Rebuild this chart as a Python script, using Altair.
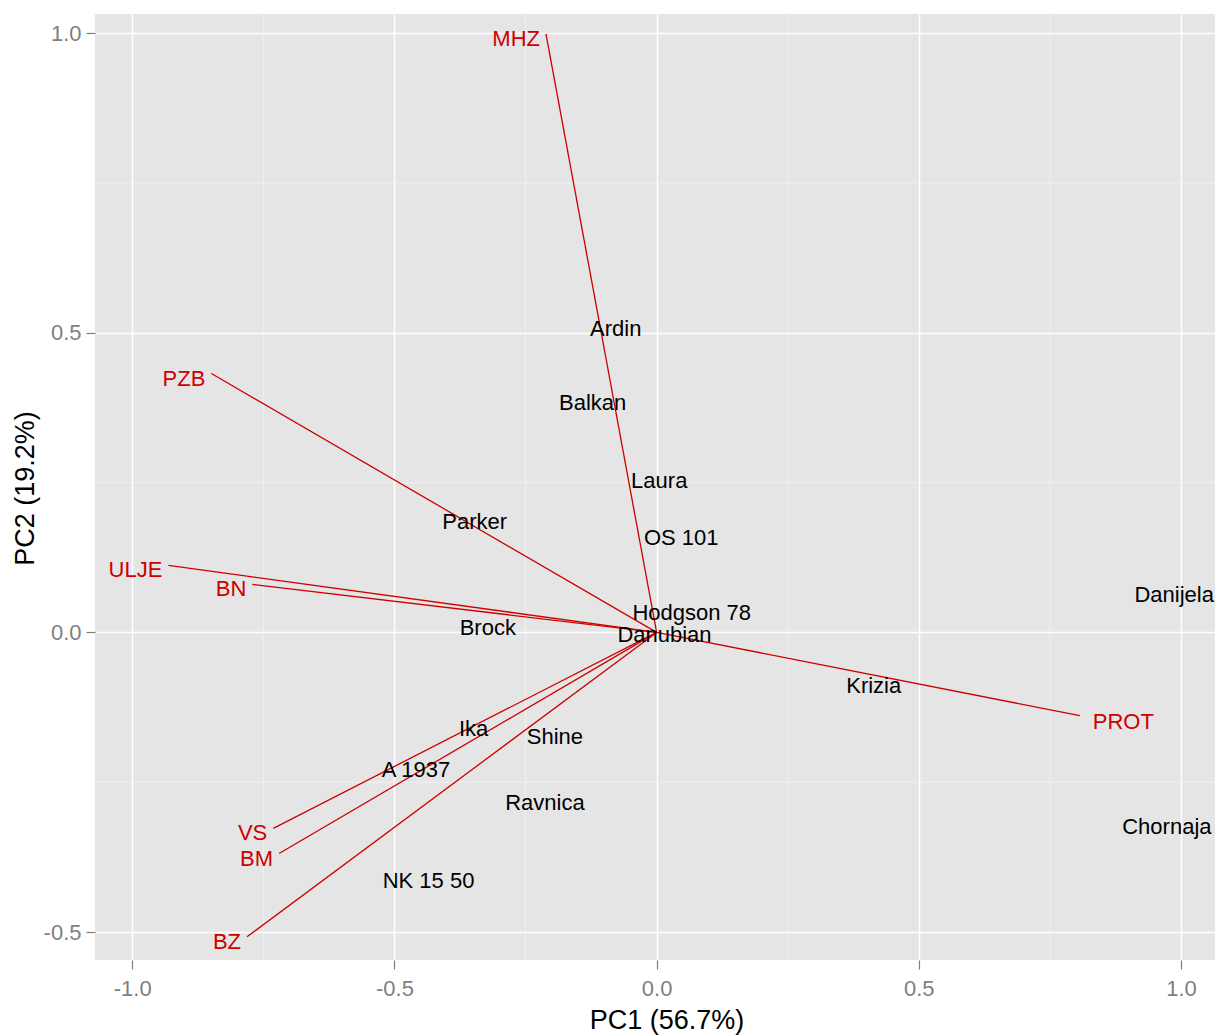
import altair as alt
import pandas as pd

# Sample (variety) scores
varieties = ["Ardin", "Balkan", "Laura", "OS 101", "Parker", "Hodgson 78", "Danubian",
             "Brock", "Danijela", "Krizia", "Ika", "Shine", "A 1937", "Ravnica",
             "Chornaja", "NK 15 50"]
var_pc1 = [-0.078, -0.122, 0.005, 0.047, -0.347, 0.067, 0.015,
           -0.322, 0.997, 0.414, -0.349, -0.194, -0.459, -0.213,
           0.973, -0.435]
var_pc2 = [0.506, 0.382, 0.253, 0.157, 0.185, 0.032, -0.004,
           0.008, 0.063, -0.090, -0.162, -0.175, -0.230, -0.285,
           -0.324, -0.415]

# Trait loadings (arrow tips)
traits = ["MHZ", "PZB", "ULJE", "BN", "PROT", "VS", "BM", "BZ"]
load_pc1 = [-0.211, -0.849, -0.931, -0.771, 0.807, -0.731, -0.720, -0.781]
load_pc2 = [0.999, 0.432, 0.112, 0.080, -0.139, -0.327, -0.369, -0.508]

# Axis ticks
x_major = [-1.0, -0.5, 0.0, 0.5, 1.0]
y_major = [-0.5, 0.0, 0.5, 1.0]
x_minor = [-0.75, -0.25, 0.25, 0.75]
y_minor = [-0.25, 0.25, 0.75]

x_domain = [-1.0710, 1.0648]
y_domain = [-0.5467, 1.032]

FONT = "Liberation Sans"
RED = "#CD0000"

samples = pd.DataFrame({"name": varieties, "x": var_pc1, "y": var_pc2})
loads = pd.DataFrame({"name": traits, "x": load_pc1, "y": load_pc2,
                      "x0": [0.0] * len(traits), "y0": [0.0] * len(traits)})

label_expr = "datum.value < 0 ? '-' + format(-datum.value, '.1f') : format(datum.value, '.1f')"

xscale = alt.Scale(domain=x_domain, nice=False, zero=False)
yscale = alt.Scale(domain=y_domain, nice=False, zero=False)

xaxis = alt.Axis(values=x_major, labelExpr=label_expr, title="PC1 (56.7%)", labelPadding=9,
                 titleX=571.5, titleY=60, titleBaseline="middle", titleAlign="center")
yaxis = alt.Axis(values=y_major, labelExpr=label_expr, title="PC2 (19.2%)", labelPadding=5,
                 titleX=-70, titleY=474, titleBaseline="middle", titleAlign="center", titleAngle=270)

base_x = alt.X("x:Q", scale=xscale, axis=xaxis)
base_y = alt.Y("y:Q", scale=yscale, axis=yaxis)

minor_x = alt.Chart(pd.DataFrame({"v": x_minor})).mark_rule(
    color="#F2F2F2", strokeWidth=0.9).encode(x=alt.X("v:Q", scale=xscale, axis=xaxis))
minor_y = alt.Chart(pd.DataFrame({"v": y_minor})).mark_rule(
    color="#F2F2F2", strokeWidth=0.9).encode(y=alt.Y("v:Q", scale=yscale, axis=yaxis))

arrows = alt.Chart(loads).mark_rule(color=RED, strokeWidth=1.3).encode(
    x=alt.X("x0:Q", scale=xscale, axis=xaxis),
    y=alt.Y("y0:Q", scale=yscale, axis=yaxis),
    x2="x:Q", y2="y:Q")

left_labels = alt.Chart(loads).transform_filter("datum.x < 0").mark_text(
    color=RED, font=FONT, fontSize=22, align="right", baseline="middle", dx=-6, dy=5
).encode(x=base_x, y=base_y, text="name:N")

right_labels = alt.Chart(loads).transform_filter("datum.x >= 0").mark_text(
    color=RED, font=FONT, fontSize=22, align="left", baseline="middle", dx=13, dy=6
).encode(x=base_x, y=base_y, text="name:N")

# keep labels fully inside the drawing at the right edge
sample_labels = alt.Chart(samples).transform_calculate(
    xl="min(datum.x, 0.987)"
).mark_text(
    color="black", font=FONT, fontSize=22, align="center", baseline="middle"
).encode(x=alt.X("xl:Q", scale=xscale, axis=xaxis), y=base_y, text="name:N")

chart = alt.layer(minor_x, minor_y, arrows, sample_labels, left_labels, right_labels).properties(
    width=1120, height=946,
    autosize=alt.AutoSizeParams(type="none"),
    padding={"left": 87, "top": 6, "right": 0, "bottom": 82},
    background="white",
).configure_view(
    fill="#E5E5E5", stroke=None
).configure_axis(
    domain=False,
    grid=True, gridColor="white", gridWidth=1.5,
    labelFont=FONT, labelFontSize=22, labelColor="#7F7F7F",
    tickColor="#7F7F7F", tickSize=9, tickWidth=1.2,
    titleFont=FONT, titleFontSize=27, titleFontWeight="normal", titleColor="black",
)

chart.save("out.html", embed_options={"renderer": "svg", "actions": False})
